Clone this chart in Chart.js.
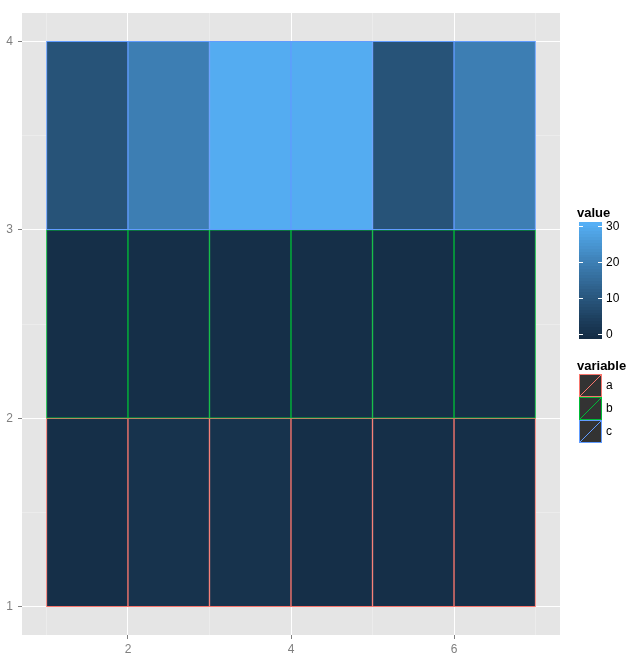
<!DOCTYPE html>
<html>
<head>
<meta charset="utf-8">
<script src="https://cdn.jsdelivr.net/npm/chart.js@4/dist/chart.umd.min.js"></script>
<style>
  html, body { margin: 0; padding: 0; background: #fff; }
  #wrap { width: 635px; height: 666px; }
</style>
</head>
<body>
<div id="wrap"><canvas id="tiles" width="635" height="666"></canvas></div>
<script>
// data
const xStarts = [1, 2, 3, 4, 5, 6];
const variables = ['a', 'b', 'c'];
const rowBottom = [1, 2, 3];
const valuesA = [1, 2, 2, 1, 1, 1];
const valuesB = [1, 1, 1, 1, 1, 1];
const valuesC = [10, 20, 30, 30, 10, 20];
const lineColours = ['#F8766D', '#00BA38', '#619CFF'];
const valueLimits = [0, 31];
const valueBreaks = [0, 10, 20, 30];
const xTickLabels = [2, 4, 6];
const yTickLabels = [1, 2, 3, 4];

// ggplot style gradient (#132B43 -> #56B1F7) interpolated in Lab
function hex2rgb(h) { return [1, 3, 5].map(i => parseInt(h.substr(i, 2), 16) / 255); }
function lin(c) { return c <= 0.04045 ? c / 12.92 : Math.pow((c + 0.055) / 1.055, 2.4); }
function unlin(c) { return c <= 0.0031308 ? 12.92 * c : 1.055 * Math.pow(c, 1 / 2.4) - 0.055; }
function toLab(h) {
  const [r, g, b] = hex2rgb(h).map(lin);
  let x = (0.4124 * r + 0.3576 * g + 0.1805 * b) / 0.95047;
  let y = (0.2126 * r + 0.7152 * g + 0.0722 * b);
  let z = (0.0193 * r + 0.1192 * g + 0.9505 * b) / 1.08883;
  const f = t => t > 0.008856 ? Math.cbrt(t) : 7.787 * t + 16 / 116;
  x = f(x); y = f(y); z = f(z);
  return [116 * y - 16, 500 * (x - y), 200 * (y - z)];
}
function fromLab([L, A, B]) {
  let y = (L + 16) / 116, x = A / 500 + y, z = y - B / 200;
  const g = t => t * t * t > 0.008856 ? t * t * t : (t - 16 / 116) / 7.787;
  x = g(x) * 0.95047; y = g(y); z = g(z) * 1.08883;
  const r = 3.2406 * x - 1.5372 * y - 0.4986 * z;
  const gg = -0.9689 * x + 1.8758 * y + 0.0415 * z;
  const b = 0.0557 * x - 0.2040 * y + 1.0570 * z;
  return 'rgb(' + [r, gg, b].map(c => Math.round(Math.max(0, Math.min(1, unlin(c))) * 255)).join(',') + ')';
}
const lowLab = toLab('#132B43'), highLab = toLab('#56B1F7');
function fillFor(v) {
  let t = (v - valueLimits[0]) / (valueLimits[1] - valueLimits[0]);
  t = Math.max(0, Math.min(1, t));
  return fromLab(lowLab.map((l, i) => l + (highLab[i] - l) * t));
}

const allValues = [valuesA, valuesB, valuesC];
const datasets = variables.map((name, k) => ({
  label: name,
  data: xStarts.map(x => ({ x: x + 0.5, y: [rowBottom[k], rowBottom[k] + 1] })),
  backgroundColor: allValues[k].map(fillFor),
  borderColor: lineColours[k],
  borderWidth: 1,
  borderSkipped: false,
  grouped: false,
  barPercentage: 1,
  categoryPercentage: 1,
  order: 3 - k
}));

const panelBg = {
  id: 'panelBg',
  beforeDraw(chart) {
    const a = chart.chartArea, ctx = chart.ctx;
    ctx.save();
    ctx.fillStyle = '#E5E5E5';
    ctx.fillRect(a.left, a.top, a.right - a.left, a.bottom - a.top);
    ctx.restore();
  }
};

const sideLegend = {
  id: 'sideLegend',
  afterDraw(chart) {
    const ctx = chart.ctx;
    ctx.save();
    ctx.fillStyle = '#000';
    ctx.font = 'bold 13px "Liberation Sans", Arial, sans-serif';
    ctx.textBaseline = 'alphabetic';
    ctx.textAlign = 'left';
    ctx.fillText('value', 577, 217);

    // colour bar
    const bx = 579, bw = 23, top = 222, bot = 338;
    const nb = 40;
    for (let i = 0; i < nb; i++) {
      const v = valueLimits[0] + (valueLimits[1] - valueLimits[0]) * (i + 0.5) / nb;
      ctx.fillStyle = fillFor(v);
      const y0 = bot - (bot - top) * (i + 1) / nb;
      ctx.fillRect(bx, Math.floor(y0), bw, Math.ceil((bot - top) / nb) + 1);
    }
    const px = v => 334 - (v - 0) * (334 - 226) / 30;
    ctx.strokeStyle = '#fff';
    ctx.lineWidth = 1;
    ctx.font = '12px "Liberation Sans", Arial, sans-serif';
    ctx.textBaseline = 'middle';
    valueBreaks.forEach(v => {
      const y = Math.round(px(v)) + 0.5;
      ctx.beginPath();
      ctx.moveTo(bx, y); ctx.lineTo(bx + 4, y);
      ctx.moveTo(bx + bw - 4, y); ctx.lineTo(bx + bw, y);
      ctx.stroke();
      ctx.fillStyle = '#000';
      ctx.fillText(String(v), 606, y);
    });

    ctx.font = 'bold 13px "Liberation Sans", Arial, sans-serif';
    ctx.textBaseline = 'alphabetic';
    ctx.fillText('variable', 577, 370);
    ctx.font = '12px "Liberation Sans", Arial, sans-serif';
    ctx.textBaseline = 'middle';
    variables.forEach((name, k) => {
      const y = 374 + k * 23;
      ctx.fillStyle = '#333333';
      ctx.fillRect(bx, y, bw, 23);
      ctx.strokeStyle = lineColours[k];
      ctx.strokeRect(bx + 0.5, y + 0.5, bw - 1, 22);
      ctx.beginPath();
      ctx.moveTo(bx + 1, y + 22);
      ctx.lineTo(bx + bw - 1, y + 1);
      ctx.stroke();
      ctx.fillStyle = '#000';
      ctx.fillText(name, 606, y + 11.5);
    });
    ctx.restore();
  }
};

const tickFont = { family: '"Liberation Sans", Arial, sans-serif', size: 12 };
const isMajor = (c, list) => !!(c && c.tick && list.includes(c.tick.value));

new Chart(document.getElementById('tiles'), {
  type: 'bar',
  data: { datasets: datasets },
  options: {
    responsive: false,
    animation: false,
    layout: { padding: { top: 13, right: 75, left: 0, bottom: 0 } },
    plugins: { legend: { display: false }, tooltip: { enabled: false } },
    scales: {
      x: {
        type: 'linear',
        min: 0.7,
        max: 7.3,
        offset: false,
        border: { display: false },
        grid: {
          offset: false,
          color: c => isMajor(c, xTickLabels) ? '#FFFFFF' : '#F2F2F2',
          lineWidth: c => isMajor(c, xTickLabels) ? 1 : 0.5,
          tickColor: c => isMajor(c, xTickLabels) ? '#7F7F7F' : 'rgba(0,0,0,0)',
          tickLength: 4,
          drawTicks: true
        },
        ticks: {
          stepSize: 1,
          includeBounds: false,
          autoSkip: false,
          maxRotation: 0,
          padding: 3,
          color: '#7F7F7F',
          font: tickFont,
          callback: v => xTickLabels.includes(v) ? String(v) : ''
        },
        afterFit: s => { s.height = 31; }
      },
      y: {
        type: 'linear',
        min: 0.85,
        max: 4.15,
        border: { display: false },
        grid: {
          color: c => isMajor(c, yTickLabels) ? '#FFFFFF' : '#F2F2F2',
          lineWidth: c => isMajor(c, yTickLabels) ? 1 : 0.5,
          tickColor: c => isMajor(c, yTickLabels) ? '#7F7F7F' : 'rgba(0,0,0,0)',
          tickLength: 4,
          drawTicks: true
        },
        ticks: {
          stepSize: 0.5,
          includeBounds: false,
          autoSkip: false,
          padding: 5,
          color: '#7F7F7F',
          font: tickFont,
          callback: v => yTickLabels.includes(v) ? String(v) : ''
        },
        afterFit: s => { s.width = 22; }
      }
    }
  },
  plugins: [panelBg, sideLegend]
});
</script>
</body>
</html>
